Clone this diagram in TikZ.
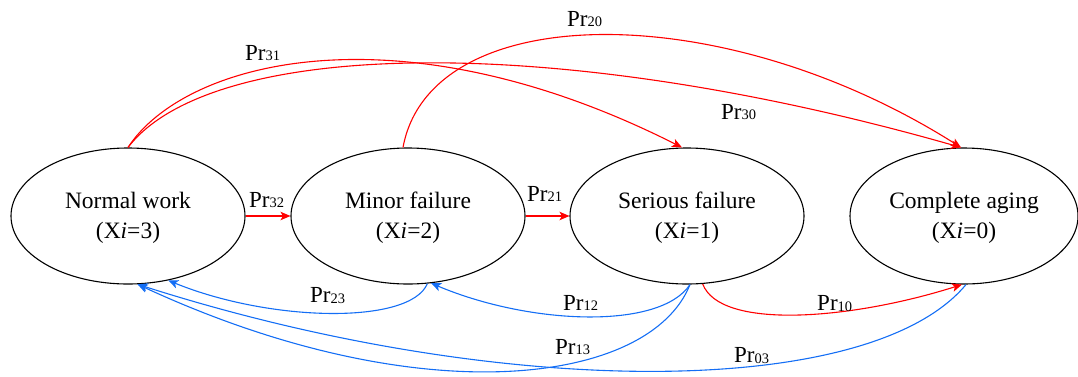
\documentclass[tikz,border=0pt]{standalone}
\usepackage{fontspec}
\setmainfont{Liberation Serif}
\usetikzlibrary{shapes.geometric,arrows.meta}
\definecolor{myred}{RGB}{255,0,0}
\definecolor{myblue}{RGB}{20,110,245}
\newcommand{\prl}[1]{Pr\raisebox{-0.5pt}{\fontsize{14.5}{15}\selectfont #1}}
\begin{document}
\begin{tikzpicture}[x=1pt,y=-1pt,
  state/.style={draw, ellipse, line width=1.1pt, minimum width=234pt, minimum height=136pt,
    inner sep=0pt},
  stext/.style={align=center, font=\fontsize{23.5}{30}\selectfont, yshift=-2pt},
  lbl/.style={anchor=base west, inner sep=0pt, font=\fontsize{23}{26}\selectfont},
  redarr/.style={draw=myred, line width=1.1pt, -{Stealth[length=10pt,width=8.5pt,inset=2.5pt]}},
  bluearr/.style={draw=myblue, line width=1.1pt, -{Stealth[length=10pt,width=8.5pt,inset=2.5pt]}}]
\useasboundingbox (0,0) rectangle (1078,376);

\node[state, label={[stext]center:Normal work\\(X\textit{i}=3)}] (e1) at (128,216) {};
\node[state, label={[stext]center:Minor failure\\(X\textit{i}=2)}] (e2) at (408,216) {};
\node[state, label={[stext]center:Serious failure\\(X\textit{i}=1)}] (e3) at (687,216) {};
\node[state, minimum width=228pt, label={[stext]center:Complete aging\\(X\textit{i}=0)}] (e4) at (964,216) {};

% straight arrows
\draw[redarr] (e1.east) -- (e2.west);
\draw[redarr] (e2.east) -- (e3.west);

% top curves
\draw[redarr] (e1.north) .. controls (185,60) and (400,5) .. ([xshift=-5pt]e3.north);
\draw[redarr] (e1.north) .. controls (210,40) and (550,30) .. ([xshift=-3pt]e4.north);
\draw[redarr] ([xshift=-5pt]e2.north) .. controls (430,0) and (720,-5) .. ([xshift=-3pt]e4.north);

% bottom curves
\draw[redarr] (e3.-77) .. controls (720,330) and (850,320) .. ([xshift=-2pt]e4.south);
\draw[bluearr] ([xshift=3pt]e3.south) .. controls (660,330) and (530,325) .. (e2.-71);
\draw[bluearr] (e2.-74) .. controls (410,325) and (270,322) .. (e1.-58);
\draw[bluearr] ([xshift=3pt]e3.south) .. controls (650,385) and (420,415) .. (e1.-82);
\draw[bluearr] ([xshift=2pt]e4.south) .. controls (870,400) and (500,400) .. (e1.-82);

% labels
\node[lbl] (l31) at (245,60) {\prl{31}};
\node[lbl] (l20) at (567,26) {\prl{20}};
\node[lbl] (l30) at (721,119) {\prl{30}};
\node[lbl] (l32) at (249,207) {\prl{32}};
\node[lbl] (l21) at (527,201) {\prl{21}};
\node[lbl] (l10) at (817,310.5) {\prl{10}};
\node[lbl] (l12) at (563,310) {\prl{12}};
\node[lbl] (l13) at (555,354) {\prl{13}};
\node[lbl] (l23) at (310,302.5) {\prl{23}};
\node[lbl] (l03) at (734,362.5) {\prl{03}};
\end{tikzpicture}
\end{document}
